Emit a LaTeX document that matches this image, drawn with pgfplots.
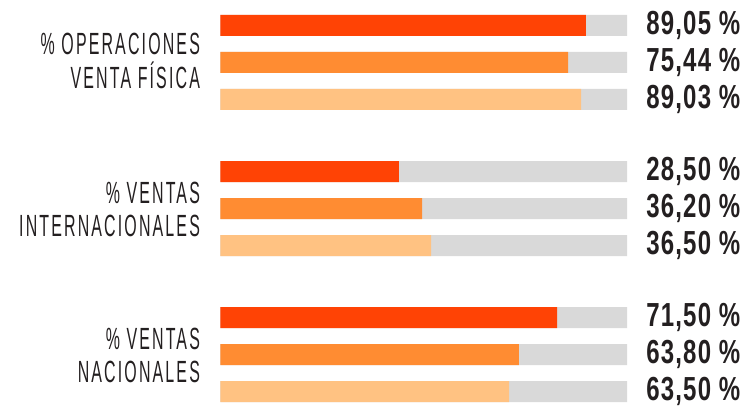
\documentclass[border=0pt]{standalone}
\usepackage{fontspec}
\usepackage{pgfplots}
\pgfplotsset{compat=1.18}
\setmainfont{Liberation Sans}
\newfontfamily\catfont[FakeStretch=0.52,LetterSpace=7]{Liberation Sans}
\newfontfamily\valfont[FakeStretch=0.72,LetterSpace=3.5]{Liberation Sans Bold}
\definecolor{cRed}{RGB}{255,67,5}
\definecolor{cOrange}{RGB}{255,140,50}
\definecolor{cLight}{RGB}{255,194,130}
\definecolor{cGray}{RGB}{217,217,217}
\definecolor{cText}{RGB}{35,31,32}

\begin{document}
\begin{tikzpicture}
\begin{axis}[
    xbar, bar shift=0pt, bar width=15.75pt,
    scale only axis, hide axis, clip=false,
    x=3.04875pt, y=0.75pt, y dir=reverse,
    xmin=-54.24, xmax=130.01, ymin=0, ymax=410,
]
% fondo 100 %
\addplot[fill=cGray, draw=none,
    point meta=explicit symbolic,
    nodes near coords, nodes near coords align={horizontal},
    every node near coord/.append style={anchor=west, xshift=11pt,
        font=\valfont\fontsize{25}{25}\selectfont, text=cText}]
    coordinates {
    (100,25.3)  [89,05 \%]
    (100,62.3)  [75,44 \%]
    (100,99.3)  [89,03 \%]
    (100,171.5) [28,50 \%]
    (100,208.5) [36,20 \%]
    (100,245.5) [36,50 \%]
    (100,317.5) [71,50 \%]
    (100,354.5) [63,80 \%]
    (100,391.5) [63,50 \%]
};
\addplot[fill=cRed, draw=none] coordinates {(89.9,25.3) (43.9,171.5) (82.8,317.5)};
\addplot[fill=cOrange, draw=none] coordinates {(85.5,62.3) (49.6,208.5) (73.4,354.5)};
\addplot[fill=cLight, draw=none] coordinates {(88.7,99.3) (51.8,245.5) (71.0,391.5)};

\coordinate (bl) at (axis cs:-54.24,410);
\coordinate (tr) at (axis cs:130.01,0);
\begin{scope}[every node/.style={anchor=east, align=right, text=cText,
        inner sep=0pt, font=\catfont\fontsize{23}{25}\selectfont}]
\node at (axis cs:-5.0,61) {\% OPERACIONES\\VENTA FÍSICA};
\node at (axis cs:-5.0,209.5) {\% VENTAS\\INTERNACIONALES};
\node at (axis cs:-5.0,355.5) {\% VENTAS\\NACIONALES};
\end{scope}
\end{axis}
\pgfresetboundingbox
\path[use as bounding box] (bl) rectangle (tr);
\end{tikzpicture}
\end{document}
